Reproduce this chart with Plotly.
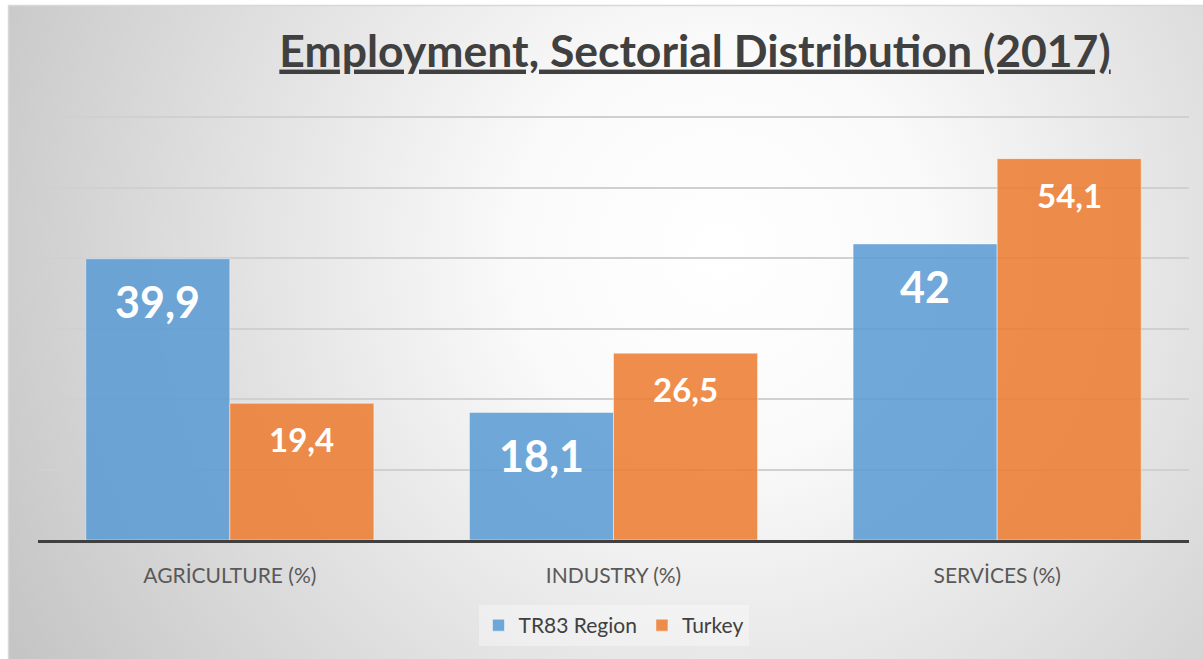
import base64
import plotly.graph_objects as go

categories = ["AGRİCULTURE (%)", "INDUSTRY (%)", "SERVİCES (%)"]
tr83_region = [39.9, 18.1, 42]
turkey = [19.4, 26.5, 54.1]
tr83_labels = ["39,9", "18,1", "42"]
turkey_labels = ["19,4", "26,5", "54,1"]
y_ticks = [0, 10, 20, 30, 40, 50, 60]

W, H = 1203, 659
ML, MR, MT, MB = 38, 14, 110, 119
pw, ph = W - ML - MR, H - MT - MB

svg = f'''<svg xmlns="http://www.w3.org/2000/svg" width="{W}" height="{H}" viewBox="0 0 {W} {H}">
<defs><radialGradient id="g" gradientUnits="userSpaceOnUse" cx="720" cy="250" r="820">
<stop offset="0" stop-color="#ffffff"/><stop offset="0.25" stop-color="#fafafa"/><stop offset="1" stop-color="#c4c4c4"/></radialGradient></defs>
<rect x="0" y="0" width="{W}" height="{H}" fill="#ffffff"/>
<rect x="8.5" y="5.5" width="{W}" height="{H}" fill="url(#g)" stroke="#d8d8d8" stroke-width="1.5"/>
</svg>'''
src = "data:image/svg+xml;base64," + base64.b64encode(svg.encode()).decode()

FONT = "Lato, Carlito, 'Open Sans', sans-serif"

fig = go.Figure()
fig.add_trace(go.Bar(
    name="TR83 Region", x=categories, y=tr83_region,
    marker=dict(color="rgba(91,155,213,0.87)", line=dict(color="rgba(255,255,255,0.45)", width=1)),
))
fig.add_trace(go.Bar(
    name="Turkey", x=categories, y=turkey,
    marker=dict(color="rgba(237,125,49,0.87)", line=dict(color="rgba(255,255,255,0.45)", width=1)),
))

annotations = []
for c, v, t in zip(categories, tr83_region, tr83_labels):
    annotations.append(dict(x=c, y=v, text=f"<b>{t}</b>", showarrow=False, xshift=-72, yshift=-43,
                            yanchor="middle", font=dict(family=FONT, size=43, color="white")))
for c, v, t in zip(categories, turkey, turkey_labels):
    annotations.append(dict(x=c, y=v, text=f"<b>{t}</b>", showarrow=False, xshift=72, yshift=-36,
                            yanchor="middle", font=dict(family=FONT, size=33, color="white")))

fig.update_layout(
    width=W, height=H,
    margin=dict(l=ML, r=MR, t=MT, b=MB, pad=0),
    paper_bgcolor="white",
    plot_bgcolor="rgba(0,0,0,0)",
    barmode="group", bargap=0.249, bargroupgap=0,
    title=dict(text="Employment, Sectorial Distribution (2017)", x=(695) / W, xanchor="center",
               y=1 - 51 / H, yanchor="middle", xref="container", yref="container",
               font=dict(family=FONT, size=44.5, color="#404040", weight="bold", lineposition="under")),
    showlegend=True,
    legend=dict(orientation="h", x=0.5, xanchor="center", y=(0 - 85.5) / ph, yanchor="middle",
                font=dict(family=FONT, size=21, color="#404040"), bgcolor="rgba(255,255,255,0.35)",
                traceorder="normal"),
    xaxis=dict(showline=True, linecolor="#404040", linewidth=3, showgrid=False,
               ticks="outside", ticklen=15, tickcolor="rgba(0,0,0,0)",
               tickfont=dict(family=FONT, size=21, color="#595959")),
    yaxis=dict(range=[0, 61], tickvals=y_ticks, showticklabels=False, showgrid=True,
               gridcolor="#d0d0d0", gridwidth=1.5, zeroline=False, fixedrange=True),
    annotations=annotations,
    images=[dict(source=src, xref="paper", yref="paper", x=-ML / pw, y=1 + MT / ph,
                 sizex=W / pw, sizey=H / ph, xanchor="left", yanchor="top",
                 sizing="stretch", layer="below")],
)

fig.write_html("out.html", config={"displayModeBar": False},
               post_script="document.body.style.margin='0px';")
